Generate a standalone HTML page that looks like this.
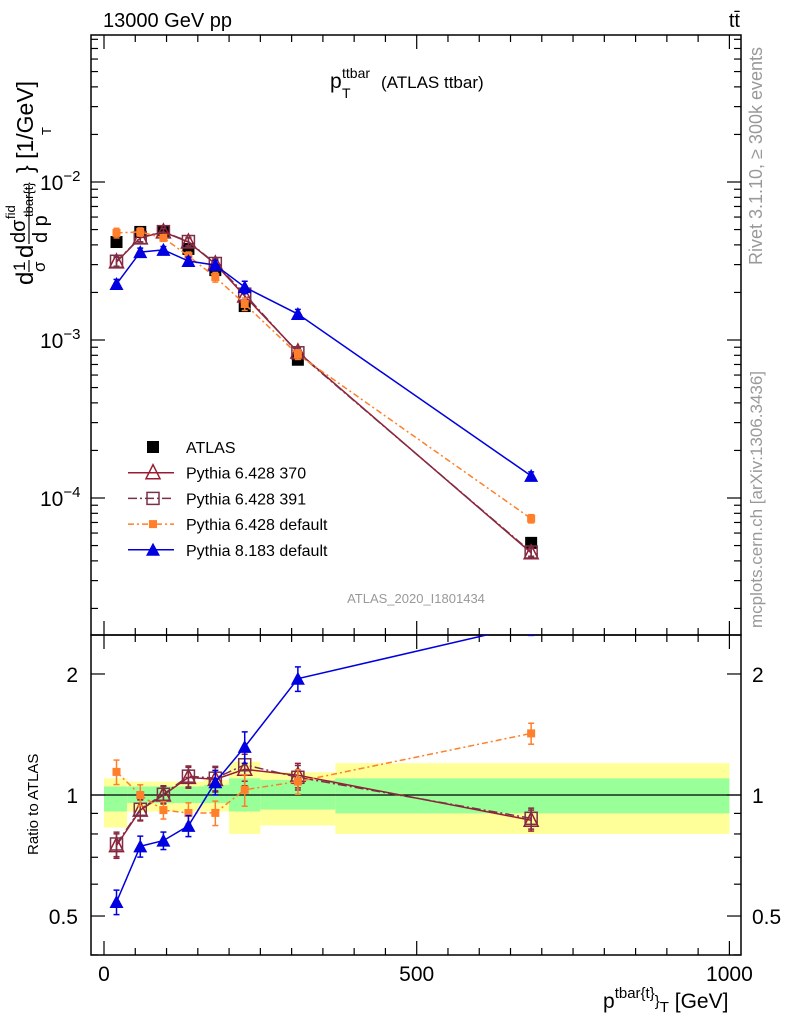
<!DOCTYPE html>
<html><head><meta charset="utf-8"><style>
body{margin:0;background:#fff}
svg{display:block;font-family:"Liberation Sans",sans-serif}
</style></head><body>
<svg id="c" width="786" height="1024" xmlns="http://www.w3.org/2000/svg"></svg>
<script>
const xCenters=[20,58,95,135,178,225,310,683];
const atlas=[4.17e-3,4.83e-3,4.83e-3,3.77e-3,2.77e-3,1.64e-3,7.5e-4,5.2e-5];
const py370=[3.12e-3,4.43e-3,4.83e-3,4.17e-3,3.03e-3,1.9e-3,8.4e-4,4.5e-5];
const py391=[3.15e-3,4.45e-3,4.85e-3,4.2e-3,3.05e-3,1.95e-3,8.3e-4,4.55e-5];
const pyDef=[4.76e-3,4.83e-3,4.43e-3,3.4e-3,2.5e-3,1.69e-3,8.1e-4,7.4e-5];
const py8=[2.26e-3,3.6e-3,3.72e-3,3.16e-3,2.98e-3,2.16e-3,1.46e-3,1.38e-4];
const relErr=[0.07,0.06,0.05,0.06,0.07,0.09,0.07,0.06];
const bandEdges=[0,37,80,115,160,200,250,370,1000];
const yelLo=[0.83,0.91,0.91,0.91,0.91,0.80,0.84,0.80];
const yelHi=[1.10,1.08,1.08,1.08,1.09,1.21,1.14,1.20];
const grnLo=[0.91,0.955,0.955,0.955,0.955,0.91,0.92,0.90];
const grnHi=[1.05,1.05,1.05,1.05,1.06,1.10,1.09,1.10];
const xTicks=[0,500,1000];
const rTicks=[0.5,1,2];

const svg=document.getElementById('c');const NS='http://www.w3.org/2000/svg';
function mk(t,a,p){const e=document.createElementNS(NS,t);for(const k in a)e.setAttribute(k,a[k]);(p||svg).appendChild(e);return e;}
const L=91,R=741,T=35,B=635,RB=955;
const X=v=>104+v*0.6254;
const Y=v=>182-(Math.log10(v)+2)*158;
const RY=v=>795-Math.log10(v)*402;
const defs=mk('defs',{});
const cp1=mk('clipPath',{id:'cm'},defs);mk('rect',{x:L,y:T,width:R-L,height:B-T},cp1);
const cp2=mk('clipPath',{id:'cr'},defs);mk('rect',{x:L,y:B,width:R-L,height:RB-B},cp2);
const gb=mk('g',{'clip-path':'url(#cr)'});

for(let i=0;i<yelLo.length;i++){
 const x0=X(bandEdges[i]),x1=X(bandEdges[i+1]);
 const y=mk('rect',{x:x0,y:RY(yelHi[i]),width:x1-x0,height:RY(yelLo[i])-RY(yelHi[i]),fill:'#ffff99'},gb);
 
 const g=mk('rect',{x:x0,y:RY(grnHi[i]),width:x1-x0,height:RY(grnLo[i])-RY(grnHi[i]),fill:'#99ff99'},gb);
 
}
mk('line',{x1:L,x2:R,y1:RY(1),y2:RY(1),stroke:'#000','stroke-width':1.2});
function frame(y0,y1){mk('rect',{x:L,y:y0,width:R-L,height:y1-y0,fill:'none',stroke:'#000','stroke-width':1.5});}
frame(T,B);frame(B,RB);
function tk(x1,y1,x2,y2){mk('line',{x1,y1,x2,y2,stroke:'#000','stroke-width':1.2});}
for(let d=-5;d<=-1;d++)for(let m=1;m<10;m++){const y=Y(m*Math.pow(10,d));if(y<T||y>B)continue;const l=m==1?14:7;tk(L,y,L+l,y);tk(R,y,R-l,y);}
[[-2,'-2'],[-3,'-3'],[-4,'-4']].forEach(([d,s])=>{const t=mk('text',{x:40,y:Y(Math.pow(10,d))+8,'font-size':21});t.innerHTML='10<tspan dy="-9" font-size="15">−'+s.slice(1)+'</tspan>';});
[0.4,0.5,0.6,0.7,0.8,0.9,1,2].forEach(v=>{const y=RY(v);const l=(v==0.5||v==1||v==2)?14:7;tk(L,y,L+l,y);tk(R,y,R-l,y);});
rTicks.forEach(v=>{[0,1].forEach(j=>{const t=mk('text',{x:j?752:78,y:RY(v)+8,'font-size':21,'text-anchor':j?'start':'end'});t.textContent=String(v);});});
for(let v=0;v<=1000;v+=50){const x=X(v);const l=v%500==0?14:7;[[B,1],[T,1],[RB,-1]].forEach(([y,s])=>tk(x,y,x,y+s*l));tk(x,B,x,B-l);}
xTicks.forEach(v=>{const t=mk('text',{x:X(v),y:981,'font-size':21,'text-anchor':'middle'});t.textContent=String(v);});
const series=[
 {n:'atlas',d:atlas,c:'#000',m:'sq',line:null},
 {n:'pythia-6428-370',d:py370,c:'#9b1b30',m:'tri-o',line:''},
 {n:'pythia-6428-391',d:py391,c:'#7a3048',m:'sq-o',line:'9,3,2,3'},
 {n:'pythia-6428-default',d:pyDef,c:'#ff7f2a',m:'sq-s',line:'6,3,2,3'},
 {n:'pythia-8183-default',d:py8,c:'#0000e0',m:'tri',line:''}];
function marker(g,m,x,y,c){
 if(m=='sq')mk('rect',{x:x-6,y:y-6,width:12,height:12,fill:c},g);
 else if(m=='sq-s')mk('rect',{x:x-4,y:y-4,width:8,height:8,fill:c},g);
 else if(m=='sq-o')mk('rect',{x:x-6,y:y-6,width:12,height:12,fill:'none',stroke:c,'stroke-width':1.5},g);
 else if(m=='tri')mk('polygon',{points:`${x},${y-7} ${x-7},${y+6} ${x+7},${y+6}`,fill:c},g);
 else mk('polygon',{points:`${x},${y-8} ${x-7},${y+6} ${x+7},${y+6}`,fill:'none',stroke:c,'stroke-width':1.5},g);
}
function draw(s,clip,Yf,vals){
 const g=mk('g',{'clip-path':clip});
 
 
 if(s.line!==null){const pts=vals.map((v,i)=>X(xCenters[i])+','+Yf(v)).join(' ');mk('polyline',{points:pts,fill:'none',stroke:s.c,'stroke-width':1.5,'stroke-dasharray':s.line},g);}
 vals.forEach((v,i)=>{const x=X(xCenters[i]),y=Yf(v);const e=relErr[i]*v;
  if(s.n!='atlas'){mk('line',{x1:x,x2:x,y1:Yf(v+e),y2:Yf(v-e),stroke:s.c,'stroke-width':1.5},g);
   mk('line',{x1:x-3,x2:x+3,y1:Yf(v+e),y2:Yf(v+e),stroke:s.c,'stroke-width':1.5},g);mk('line',{x1:x-3,x2:x+3,y1:Yf(v-e),y2:Yf(v-e),stroke:s.c,'stroke-width':1.5},g);}
  marker(g,s.m,x,y,s.c);});
}
series.forEach(s=>draw(s,'url(#cm)',Y,s.d));
series.slice(1).forEach(s=>draw(s,'url(#cr)',RY,s.d.map((v,i)=>v/atlas[i])));
const lg=mk('g',{});
const labels=['ATLAS','Pythia 6.428 370','Pythia 6.428 391','Pythia 6.428 default','Pythia 8.183 default'];
series.forEach((s,i)=>{const y=447+i*25.7;
 if(s.line!==null)mk('line',{x1:128,x2:174,y1:y,y2:y,stroke:s.c,'stroke-width':1.5,'stroke-dasharray':s.line},lg);
 marker(lg,s.m,153,y,s.c);
 const t=mk('text',{x:186,y:y+6,'font-size':16},lg);t.textContent=labels[i];});
function tx(x,y,s,txt,extra,name,p){const t=mk('text',Object.assign({x,y,'font-size':s},extra||{}),p);t.innerHTML=txt;return t;}
tx(103,27,20,'13000 GeV pp',{},'energy-label');
tx(740,27,20,'tt̄',{'text-anchor':'end'},'process-label');
tx(330,88,21,'p',{},'plot-title');
tx(342,78,14,'ttbar',{},'plot-title-sup');
tx(342,98,14,'T',{},'plot-title-sub');
tx(381,88,17,'(ATLAS ttbar)',{},'plot-title-text');
tx(416,603,13,'ATLAS_2020_I1801434',{'text-anchor':'middle',fill:'#999'},'analysis-id');
tx(0,0,18,'Rivet 3.1.10, ≥ 300k events',{transform:'translate(762,265) rotate(-90)',fill:'#999'},'rivet-label');
tx(0,0,17,'mcplots.cern.ch [arXiv:1306.3436]',{transform:'translate(762,628) rotate(-90)',fill:'#999'},'mcplots-label');
tx(0,0,15,'Ratio to ATLAS',{transform:'translate(38,855) rotate(-90)'},'ratio-axis-title');
tx(603,1008,21,'p<tspan dy="-10" font-size="15">tbar{t}</tspan><tspan dy="8" font-size="15">}</tspan><tspan dy="6" font-size="15">T</tspan><tspan dy="-4"> [GeV]</tspan>',{},'x-axis-title');
const yt=mk('g',{transform:'translate(33,285) rotate(-90)'});

tx(0,0,24,'d',{},'yt-d1',yt);
tx(14,-8,17,'1',{},'yt-one',yt);
mk('line',{x1:13,x2:25,y1:-4,y2:-4,stroke:'#000','stroke-width':1.2},yt);
tx(13,12,17,'σ',{},'yt-sigma',yt);
tx(27,0,24,'d',{},'yt-d2',yt);
tx(42,-8,20,'dσ',{},'yt-dsigma',yt);
tx(66,-18,13,'fid',{},'yt-fid',yt);
mk('line',{x1:41,x2:100,y1:-4,y2:-4,stroke:'#000','stroke-width':1.2},yt);
tx(42,14,20,'d p',{},'yt-dp',yt);
tx(68,0,13,'tbar{t}',{},'yt-tbar',yt);
tx(150,18,13,'T',{},'yt-T',yt);
tx(112,0,23,'} [1/GeV]',{},'yt-unit',yt);
</script>
</body></html>
